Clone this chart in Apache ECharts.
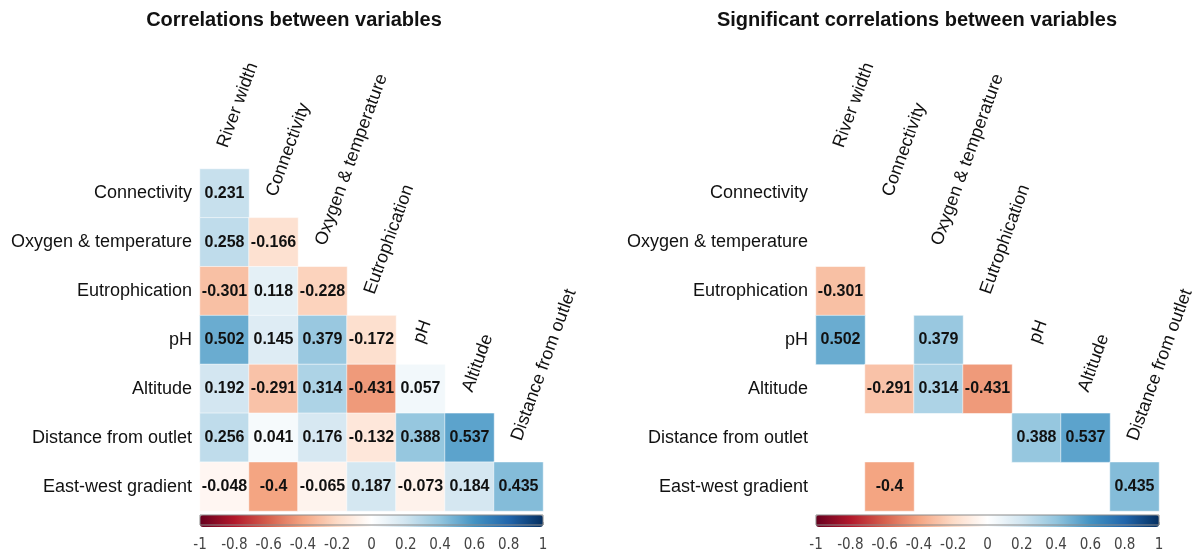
<!DOCTYPE html>
<html>
<head>
<meta charset="utf-8">
<script src="https://cdn.jsdelivr.net/npm/echarts@6/dist/echarts.min.js"></script>
<style>
html,body{margin:0;padding:0;background:#fff;}
#chart{width:1198px;height:553px;}
</style>
</head>
<body>
<div id="chart"></div>
<script>
// ---- data ----
const colNames = ['River width', 'Connectivity', 'Oxygen & temperature', 'Eutrophication', 'pH', 'Altitude', 'Distance from outlet'];
const rowNames = ['Connectivity', 'Oxygen & temperature', 'Eutrophication', 'pH', 'Altitude', 'Distance from outlet', 'East-west gradient'];

const corrConnectivity = [0.231];
const corrOxygen = [0.258, -0.166];
const corrEutrophication = [-0.301, 0.118, -0.228];
const corrPH = [0.502, 0.145, 0.379, -0.172];
const corrAltitude = [0.192, -0.291, 0.314, -0.431, 0.057];
const corrDistance = [0.256, 0.041, 0.176, -0.132, 0.388, 0.537];
const corrEastWest = [-0.048, -0.4, -0.065, 0.187, -0.073, 0.184, 0.435];

// 1 = significant
const sigConnectivity = [0];
const sigOxygen = [0, 0];
const sigEutrophication = [1, 0, 0];
const sigPH = [1, 0, 1, 0];
const sigAltitude = [0, 1, 1, 1, 0];
const sigDistance = [0, 0, 0, 0, 1, 1];
const sigEastWest = [0, 1, 0, 0, 0, 0, 1];

const colorbarTicks = [-1, -0.8, -0.6, -0.4, -0.2, 0, 0.2, 0.4, 0.6, 0.8, 1];
const titles = ['Correlations between variables', 'Significant correlations between variables'];

// ---- build ----
const corrRows = [corrConnectivity, corrOxygen, corrEutrophication, corrPH, corrAltitude, corrDistance, corrEastWest];
const sigRows = [sigConnectivity, sigOxygen, sigEutrophication, sigPH, sigAltitude, sigDistance, sigEastWest];

const allData = [];
const sigData = [];
corrRows.forEach((row, i) => {
  row.forEach((v, j) => {
    allData.push([j, i, v]);
    if (sigRows[i][j]) sigData.push([j, i, v]);
  });
});
const colLabelData = colNames.map((c, j) => [j, j, c]);

const palette = ['#67001F', '#B2182B', '#D6604D', '#F4A582', '#FDDBC7', '#FFFFFF', '#D1E5F0', '#92C5DE', '#4393C3', '#2166AC', '#053061'];
const FONT = "'Liberation Sans', Arial, sans-serif";
const NARROW = "'Liberation Sans Narrow', 'Arial Narrow', 'DejaVu Sans Condensed', sans-serif";

const gridLeft = [200, 816];
const gridTop = 169, gridW = 343, gridH = 342;

function heatSeries(idx, data) {
  return {
    type: 'heatmap', xAxisIndex: idx, yAxisIndex: idx, data: data,
    itemStyle: { borderColor: 'rgba(255,255,255,0.55)', borderWidth: 1 },
    label: { show: true, formatter: p => String(p.value[2]), fontFamily: FONT, fontWeight: 'bold', fontSize: 16, color: '#111' },
    emphasis: { disabled: true }, silent: true
  };
}
function colLabelSeries(idx) {
  return {
    type: 'custom', xAxisIndex: idx, yAxisIndex: idx, data: colLabelData, silent: true, clip: false,
    renderItem: function (params, api) {
      const p = api.coord([api.value(0), api.value(1)]);
      const s = api.size([1, 1]);
      return {
        type: 'text', x: p[0] - 2, y: p[1] - s[1] / 2 - 22, rotation: 70 * Math.PI / 180,
        style: { text: colNames[params.dataIndex], x: 0, y: 0, align: 'left', verticalAlign: 'middle', font: '18px ' + FONT, fill: '#111' }
      };
    }
  };
}

const option = {
  animation: false,
  backgroundColor: '#fff',
  title: titles.map((t, k) => ({
    text: t, left: [294, 917][k], top: 10, textAlign: 'center', padding: 0,
    textStyle: { fontFamily: FONT, fontWeight: 'bold', fontSize: 20, color: '#111' }
  })),
  grid: [
    { left: gridLeft[0], top: gridTop, width: gridW, height: gridH },
    { left: gridLeft[1], top: gridTop, width: gridW, height: gridH },
    { left: gridLeft[0], top: 515, width: gridW, height: 12, show: true, borderColor: '#8a8a8a', borderWidth: 1, z: 6 },
    { left: gridLeft[1], top: 515, width: gridW, height: 12, show: true, borderColor: '#8a8a8a', borderWidth: 1, z: 6 }
  ],
  xAxis: [0, 1].map(k => ({ type: 'category', gridIndex: k, data: colNames, show: false }))
    .concat([2, 3].map(k => ({
      type: 'value', gridIndex: k, min: -1, max: 1, interval: 0.2,
      axisLine: { show: false }, splitLine: { show: false },
      axisTick: { show: true, inside: true, length: 3, lineStyle: { color: 'rgba(120,120,120,0.5)' } },
      axisLabel: { fontFamily: NARROW, fontSize: 15, color: '#444', margin: 13, customValues: colorbarTicks }
    }))),
  yAxis: [0, 1].map(k => ({
    type: 'category', gridIndex: k, data: rowNames, inverse: true,
    axisLine: { show: false }, axisTick: { show: false }, splitLine: { show: false },
    axisLabel: { fontFamily: FONT, fontSize: 18, color: '#111', margin: 8 }
  })).concat([2, 3].map(k => ({ type: 'value', gridIndex: k, show: false }))),
  visualMap: [0, 1].map(k => ({
    type: 'continuous', min: -1, max: 1, dimension: 2, seriesIndex: k,
    orient: 'horizontal', left: gridLeft[k], top: 515, itemWidth: 12, itemHeight: gridW,
    padding: 0, calculable: false, text: null, showLabel: false, hoverLink: false,
    inRange: { color: palette }
  })),
  series: [heatSeries(0, allData), heatSeries(1, sigData), colLabelSeries(0), colLabelSeries(1)]
};

const chart = echarts.init(document.getElementById('chart'), null, { renderer: 'canvas' });
chart.setOption(option);
</script>
</body>
</html>
